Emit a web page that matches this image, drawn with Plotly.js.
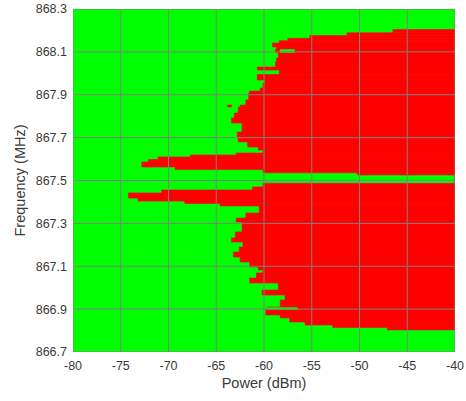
<!DOCTYPE html>
<html><head><meta charset="utf-8">
<script src="https://cdn.plot.ly/plotly-3.0.1.min.js"></script>
<style>html,body{margin:0;padding:0;background:#fff}</style>
</head><body><div id="chart" style="width:466px;height:401px"></div>
<script>
// Frequency row edges (MHz), top to bottom
const freqEdges = [868.204, 868.189, 868.176, 868.163, 868.152, 868.141, 868.123, 868.111, 868.097, 868.071,
  868.053, 868.029, 868.015, 867.994, 867.969, 867.955, 867.931, 867.917, 867.908, 867.876,
  867.852, 867.843, 867.815, 867.792, 867.768, 867.726, 867.703, 867.680, 867.656, 867.642,
  867.628, 867.619, 867.610, 867.598, 867.586, 867.563, 867.551, 867.536, 867.526, 867.487,
  867.470, 867.456, 867.442, 867.418, 867.404, 867.393, 867.381, 867.348, 867.325, 867.306,
  867.260, 867.232, 867.213, 867.190, 867.166, 867.143, 867.120, 867.097, 867.083, 867.069,
  867.045, 867.022, 866.989, 866.966, 866.943, 866.910, 866.896, 866.873, 866.859, 866.840,
  866.826, 866.814, 866.803];
// Power (dBm) where the red region starts in each row (red up to -40 dBm)
const redStart = [-46.5, -51.3, -55.2, -57.5, -58.4, -59.1, -58.7, -58.8, -58.5,
  -58.7, -58.8, -60.7, -58.4, -60.7, -59.9, -60.1, -60.4, -61.5, -61.6,
  -61.9, -62.5, -62.7, -63.1, -63.4, -62.3, -62.8, -62.7, -61.7, -60.6,
  -60.1, -62.9, -67.7, -71.1, -72.1, -72.8, -69.3, -60.1, -50.2, -40.0,
  -60.1, -61.2, -70.7, -74.2, -73.2, -68.3, -64.6, -60.5, -61.9, -62.9,
  -62.3, -63.0, -63.4, -62.2, -62.6, -63.2, -62.5, -61.5, -60.6, -60.1,
  -60.8, -61.5, -58.5, -60.2, -57.8, -58.3, -59.6, -59.8, -58.3, -57.3,
  -55.7, -52.8, -47.1];
// Green gaps inside the red region
const gapFreqHi = [868.111, 866.907];
const gapFreqLo = [868.097, 866.898];
const gapPowLo = [-58.3, -59.6];
const gapPowHi = [-56.8, -56.5];
// Isolated red spot
const spotFreqHi = [867.852];
const spotFreqLo = [867.843];
const spotPowLo = [-63.8];
const spotPowHi = [-63.4];

const xTicks = [-80, -75, -70, -65, -60, -55, -50, -45, -40];
const yTicks = [866.7, 866.9, 867.1, 867.3, 867.5, 867.7, 867.9, 868.1, 868.3];
const xMax = -40;

const RED = '#ff0000', GREEN = '#00ff00';

const rowY = [], rowW = [], rowLen = [];
for (let i = 0; i < redStart.length; i++) {
  rowY.push((freqEdges[i] + freqEdges[i + 1]) / 2);
  rowW.push(freqEdges[i] - freqEdges[i + 1]);
  rowLen.push(xMax - redStart[i]);
}
function barsFrom(hi, lo, pLo, pHi, color) {
  return {
    type: 'bar', orientation: 'h',
    y: hi.map((h, i) => (h + lo[i]) / 2),
    width: hi.map((h, i) => h - lo[i]),
    base: pLo,
    x: pLo.map((p, i) => pHi[i] - p),
    marker: {color: color, line: {color: color, width: 0.6}},
    hoverinfo: 'skip', showlegend: false
  };
}
const traces = [
  {type: 'bar', orientation: 'h', y: rowY, width: rowW, base: redStart, x: rowLen,
   marker: {color: RED, line: {color: RED, width: 0.6}}, hoverinfo: 'skip', showlegend: false},
  barsFrom(gapFreqHi, gapFreqLo, gapPowLo, gapPowHi, GREEN),
  barsFrom(spotFreqHi, spotFreqLo, spotPowLo, spotPowHi, RED)
];

const gridColor = '#808080';
const shapes = [];
xTicks.forEach(t => shapes.push({type: 'line', xref: 'x', yref: 'paper', x0: t, x1: t, y0: 0, y1: 1,
  layer: 'above', line: {color: gridColor, width: 1}}));
yTicks.forEach(t => shapes.push({type: 'line', xref: 'paper', yref: 'y', x0: 0, x1: 1, y0: t, y1: t,
  layer: 'above', line: {color: gridColor, width: 1}}));

const font = {family: 'Liberation Sans, Arial, sans-serif', size: 12.5, color: '#3a3a3a'};
const layout = {
  width: 466, height: 401,
  margin: {l: 73, r: 11, t: 9, b: 49, pad: 0},
  paper_bgcolor: '#ffffff', plot_bgcolor: GREEN,
  barmode: 'overlay',
  font: font,
  xaxis: {range: [-80, -40], tickvals: xTicks, ticktext: xTicks.map(String), showgrid: false, zeroline: false,
    showline: false, ticks: '', ticklabelstandoff: 4,
    title: {text: 'Power (dBm)', font: {size: 14.5, color: '#3a3a3a'}, standoff: 6}},
  yaxis: {range: [866.7, 868.3], tickvals: yTicks, ticktext: yTicks.map(v => v.toFixed(1)), showgrid: false,
    zeroline: false, showline: false, ticks: '', ticklabelstandoff: 5,
    title: {text: 'Frequency (MHz)', font: {size: 14.5, color: '#3a3a3a'}, standoff: 6}},
  shapes: shapes
};
Plotly.newPlot('chart', traces, layout, {staticPlot: true, displayModeBar: false});
</script></body></html>
